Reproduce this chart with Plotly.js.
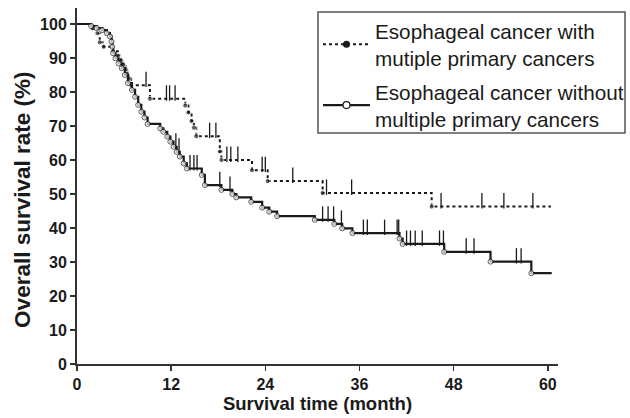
<!DOCTYPE html>
<html>
<head>
<meta charset="utf-8">
<script src="https://cdn.plot.ly/plotly-3.0.1.min.js"></script>
<style>html,body{margin:0;padding:0;background:#fff;}#chart{width:630px;height:418px;}</style>
</head>
<body>
<div id="chart"></div>
<script>
// Group with multiple primary cancers (dotted): event times (months) and survival (%)
const withTimes = [0, 2.0, 2.6, 2.9, 3.4, 4.6, 5.2, 5.6, 5.9, 6.2, 6.4, 6.6, 6.9, 9.3, 13.8, 14.2, 14.6, 14.9, 15.2, 18.2, 18.4, 22.3, 24.3, 31.3, 45.2, 60.4];
const withSurv  = [100, 98.7, 97.3, 94.6, 93.3, 92.0, 90.7, 89.3, 88.0, 86.7, 85.3, 84.0, 82.0, 78.0, 76.0, 74.0, 71.5, 69.5, 67.0, 62.5, 60.0, 57.0, 53.8, 50.3, 46.3, 46.3];
const withCensor = [8.8, 11.4, 11.8, 12.5, 16.9, 17.7, 19.1, 19.6, 20.5, 23.6, 24.0, 27.5, 31.8, 35.0, 46.4, 51.6, 54.4, 58.1];

// Group without multiple primary cancers (solid)
const withoutTimes = [0, 1.8, 2.5, 3.2, 3.8, 4.2, 4.4, 4.5, 4.6, 4.9, 5.3, 5.7, 6.1, 6.5, 7.0, 7.4, 7.8, 8.2, 8.6, 9.0, 10.6, 11.0, 11.5, 11.9, 12.3, 12.7, 13.1, 13.6, 14.0, 15.9, 16.3, 18.4, 19.8, 20.3, 22.2, 23.6, 24.5, 25.5, 30.3, 32.8, 33.8, 35.1, 41.1, 41.5, 46.8, 52.7, 57.9, 60.5];
const withoutSurv  = [100, 99.4, 98.8, 98.2, 97.3, 96.3, 94.8, 93.3, 91.4, 89.9, 88.4, 87.0, 85.0, 82.6, 80.6, 78.6, 76.2, 74.2, 72.5, 70.6, 69.3, 68.3, 66.9, 65.4, 63.9, 62.4, 61.0, 59.0, 57.5, 55.6, 52.6, 51.2, 50.0, 49.0, 47.7, 46.0, 44.8, 43.5, 42.4, 41.2, 39.9, 38.5, 36.9, 35.3, 33.0, 30.1, 26.7, 26.7];
const withoutCensor = [12.6, 13.0, 14.4, 14.9, 15.3, 18.2, 19.5, 31.3, 32.0, 32.7, 33.7, 36.5, 37.0, 39.2, 40.8, 41.0, 42.0, 42.5, 43.1, 44.0, 46.2, 46.7, 49.6, 50.6, 56.0, 56.6];

const xTicks = [0, 12, 24, 36, 48, 60];
const yTicks = [0, 10, 20, 30, 40, 50, 60, 70, 80, 90, 100];

const nameWith = "Esophageal cancer with<br>mutiple primary cancers";
const nameWithout = "Esophageal cancer without<br>multiple primary cancers";
const xTitle = "Survival time (month)";
const yTitle = "Overall survival rate (%)";

function survAt(times, surv, t) {
  let s = surv[0];
  for (let i = 0; i < times.length; i++) { if (times[i] <= t) s = surv[i]; }
  return s;
}
function markerSizes(n, sz) { return Array.from({length: n}, (_, i) => (i === 0 || i === n - 1) ? 0 : sz); }

const TICK_H = 3.4; // censor tick height, in % units
const ink = "#1a1a1a";

const styleWith = {
  line: {shape: "hv", dash: "dot", width: 2, color: ink},
  markerColor: ink, markerLine: {color: ink, width: 0}
};
const styleWithout = {
  line: {shape: "hv", width: 2.2, color: ink},
  markerColor: "#fff", markerLine: {color: ink, width: 1.2}
};

const traces = [
  {
    x: withTimes, y: withSurv, name: nameWith, type: "scatter", mode: "lines+markers", showlegend: false,
    line: styleWith.line,
    marker: {symbol: "circle", size: markerSizes(withTimes.length, 5), color: styleWith.markerColor},
    hoverinfo: "skip"
  },
  {
    x: withoutTimes, y: withoutSurv, name: nameWithout, type: "scatter", mode: "lines+markers", showlegend: false,
    line: styleWithout.line,
    marker: {symbol: "circle", size: markerSizes(withoutTimes.length, 5), color: styleWithout.markerColor, line: {color: ink, width: 1}},
    hoverinfo: "skip"
  },
  {
    x: withCensor, y: withCensor.map(t => survAt(withTimes, withSurv, t) + TICK_H / 2),
    type: "scatter", mode: "markers", showlegend: false, hoverinfo: "skip",
    marker: {symbol: "line-ns", size: 11, line: {color: ink, width: 1.3}}
  },
  {
    x: withoutCensor, y: withoutCensor.map(t => survAt(withoutTimes, withoutSurv, t) + TICK_H / 2),
    type: "scatter", mode: "markers", showlegend: false, hoverinfo: "skip",
    marker: {symbol: "line-ns", size: 11, line: {color: ink, width: 1.3}}
  },
  // legend entries (no data drawn)
  {
    x: [null], y: [null], name: nameWith, type: "scatter", mode: "lines+markers", legendgroup: "g1", showlegend: true,
    line: styleWith.line, marker: {symbol: "circle", size: 7, color: styleWith.markerColor, line: styleWith.markerLine},
    hoverinfo: "skip"
  },
  {
    x: [null], y: [null], name: nameWithout, type: "scatter", mode: "lines+markers", legendgroup: "g2", showlegend: true,
    line: styleWithout.line, marker: {symbol: "circle", size: 7, color: styleWithout.markerColor, line: styleWithout.markerLine},
    hoverinfo: "skip"
  }
];

const fontFam = "Arial, 'Liberation Sans', sans-serif";
const layout = {
  width: 630, height: 418,
  margin: {l: 77, r: 72, t: 8, b: 54, autoexpand: false},
  paper_bgcolor: "#fff", plot_bgcolor: "#fff",
  font: {family: fontFam, color: ink},
  showlegend: true,
  legend: {
    x: 0.501, y: 0.992, xanchor: "left", yanchor: "top",
    borderwidth: 0, bgcolor: "rgba(0,0,0,0)",
    font: {size: 20.7, family: fontFam, color: ink},
    itemwidth: 47, tracegroupgap: 4
  },
  shapes: [{
    type: "rect", xref: "paper", yref: "paper", layer: "above",
    x0: 0.501, x1: 1.1393, y0: 0.6489, y1: 0.9888,
    line: {color: "#555", width: 1.5}, fillcolor: "#fff"
  }],
  xaxis: {
    range: [0, 61.3], tickvals: xTicks, ticktext: xTicks.map(String),
    showline: true, linecolor: "#333", linewidth: 2, mirror: false,
    ticks: "outside", ticklen: 5, tickwidth: 1.5, tickcolor: "#333",
    showgrid: false, zeroline: false, automargin: false,
    tickfont: {size: 16, weight: "bold", family: fontFam, color: ink},
    title: {text: xTitle, font: {size: 18.5, weight: "bold", family: fontFam, color: ink}, standoff: 4}
  },
  yaxis: {
    range: [0, 104.7], tickvals: yTicks, ticktext: yTicks.map(String),
    showline: true, linecolor: "#333", linewidth: 2,
    ticks: "outside", ticklen: 5, tickwidth: 1.5, tickcolor: "#333",
    showgrid: false, zeroline: false, automargin: false,
    tickfont: {size: 16, weight: "bold", family: fontFam, color: ink}
  },
  annotations: [{
    text: yTitle, textangle: -90, showarrow: false,
    xref: "paper", yref: "paper", x: -0.113, y: 0.46, xanchor: "center", yanchor: "middle",
    font: {size: 22.5, weight: "bold", family: fontFam, color: ink}
  }]
};

Plotly.newPlot("chart", traces, layout, {staticPlot: true, displayModeBar: false});
</script>
</body>
</html>
